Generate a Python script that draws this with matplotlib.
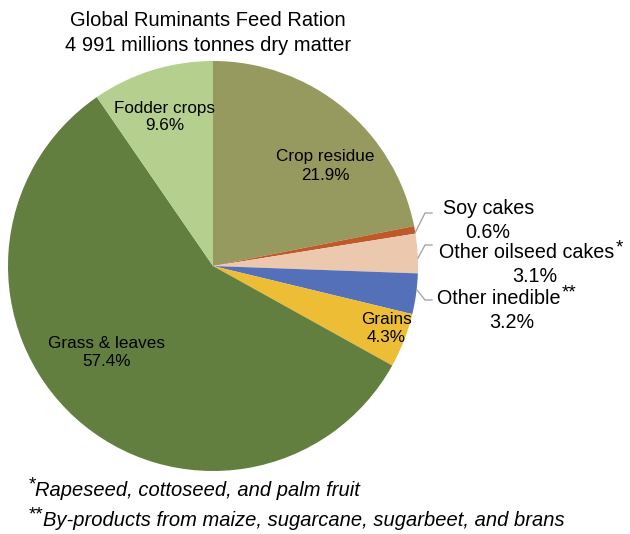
import matplotlib.pyplot as plt

plt.rcParams['font.family'] = ['Liberation Sans', 'DejaVu Sans']

labels = ['Crop residue', 'Soy cakes', 'Other oilseed cakes', 'Other inedible',
          'Grains', 'Grass & leaves', 'Fodder crops']
shares = [21.9, 0.6, 3.1, 3.2, 4.3, 57.4, 9.6]
marks = ['', '', '*', '**', '', '', '']
colors = ['#969A5E', '#C0592A', '#ECC8AE', '#5470B8', '#EEBD36', '#627F3F', '#B5CF8F']
notes = ['Rapeseed, cottoseed, and palm fruit',
         'By-products from maize, sugarcane, sugarbeet, and brans']

W, H = 630, 534
fig = plt.figure(figsize=(W / 100, H / 100), dpi=100)
ax = fig.add_axes([0, 0, 1, 1])

cx, cy, R = 213, H - 266, 205
ax.pie(shares, colors=colors, startangle=90, counterclock=False,
       center=(cx, cy), radius=R, wedgeprops=dict(linewidth=0))
ax.set_xlim(0, W)
ax.set_ylim(0, H)
ax.set_aspect('equal')
ax.axis('off')

def py(y):
    return H - y

# labels inside the pie (pixel positions of label centres)
inside = {0: (325, 166), 4: (386, 329), 5: (107, 353), 6: (165, 117)}
for i, (x, y) in inside.items():
    ax.text(x, py(y), f'{labels[i]}\n{shares[i]:.1f}%', ha='center', va='center',
            fontsize=12.3, linespacing=1.25)

# labels outside with leader lines
outside = {1: ((489, 208), (488, 233), [(415, 233), (425, 213), (432, 213)]),
           2: ((527, 253), (535, 277), [(418, 258), (425, 245), (432, 245)]),
           3: ((499, 298), (512, 323), [(417, 290), (425, 300), (432, 300)])}
for i, ((x1, y1), (x2, y2), pts) in outside.items():
    ax.plot([p[0] for p in pts], [py(p[1]) for p in pts], color='#A6A6A6', lw=1)
    t = ax.text(x1, py(y1), labels[i], ha='center', va='center', fontsize=14.2)
    if marks[i]:
        ax.annotate(marks[i], xy=(1, 1), xycoords=t, xytext=(0.5, 3),
                    textcoords='offset points', ha='left', va='top', fontsize=13.5)
    ax.text(x2, py(y2), f'{shares[i]:.1f}%', ha='center', va='center', fontsize=14.2)

ax.text(208, py(33), 'Global Ruminants Feed Ration\n4 991 millions tonnes dry matter',
        ha='center', va='center', fontsize=14.5, linespacing=1.35)

for k, (note, y) in enumerate(zip(notes, [490, 520])):
    n = ax.text(35 + 8 * k, py(y), note, ha='left', va='center',
                fontsize=14.5, style='italic')
    ax.annotate('*' * (k + 1), xy=(0, 1), xycoords=n, xytext=(0.5, 3),
                textcoords='offset points', ha='right', va='top', fontsize=13.5)

fig.savefig('out.png', dpi=100)
